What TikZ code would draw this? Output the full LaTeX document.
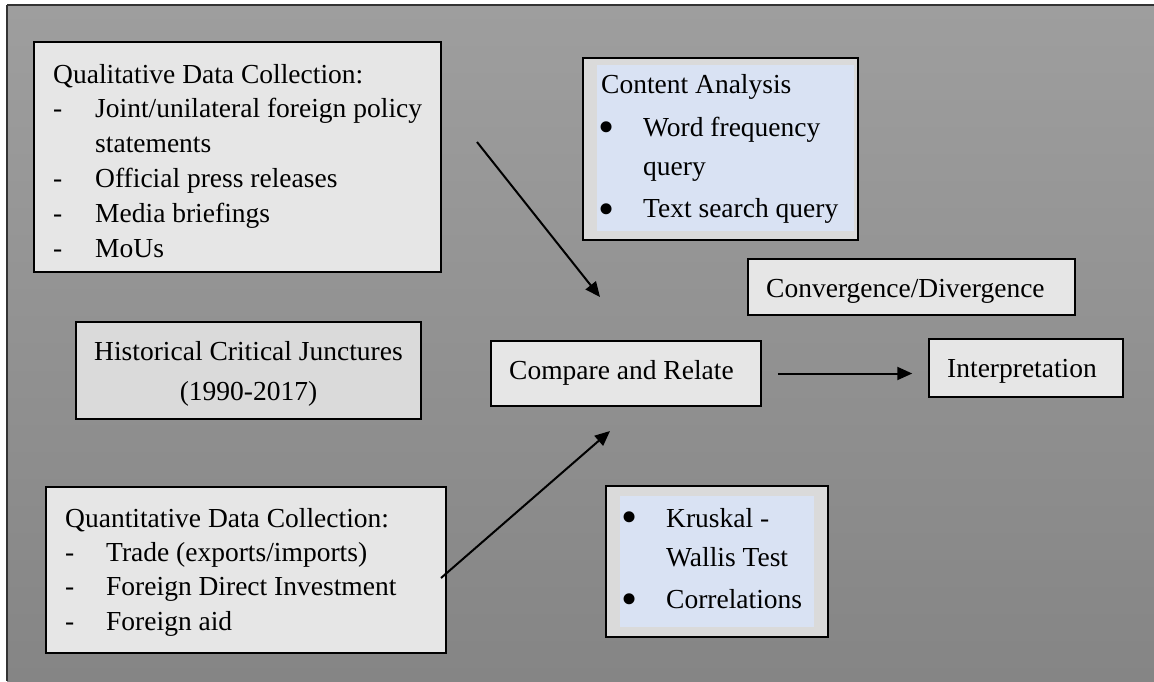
\documentclass[tikz,border=0pt]{standalone}
\usepackage{fontspec}
\setmainfont{Liberation Serif}
\usetikzlibrary{arrows.meta}
\definecolor{bgtop}{HTML}{9E9E9E}
\definecolor{bgbot}{HTML}{858585}
\definecolor{framecol}{HTML}{333333}
\definecolor{boxlight}{HTML}{E6E6E6}
\definecolor{boxmid}{HTML}{DADADA}
\definecolor{panelblue}{HTML}{D9E2F3}
\tikzset{
  box/.style={draw=black, line width=1.5pt, rectangle, inner sep=0pt, fill=boxlight},
  boxdark/.style={box, fill=boxmid},
  panel/.style={fill=panelblue, draw=none, rectangle, inner sep=0pt},
  txt/.style={inner sep=0pt, anchor=base west, font=\fontsize{27.5}{33}\selectfont},
  ctxt/.style={txt, anchor=base},
  dot/.style={inner sep=0pt, anchor=center, font=\fontsize{46}{46}\selectfont},
  link/.style={line width=2pt, -{Triangle[length=15pt,width=13pt]}}
}
\begin{document}
\begin{tikzpicture}[x=1pt,y=-1pt]
\useasboundingbox (0,0) rectangle (1154,681);
% page background and frame
\fill[white] (0,0) rectangle (1154,681);
\shade[top color=bgtop, bottom color=bgbot] (7,5) rectangle (1154,681);
\draw[framecol, line width=2pt] (7,5) -- (1154,5);
\draw[framecol, line width=1.5pt] (7,5) -- (7,681);

% qualitative data collection
\node[box, minimum width=407pt, minimum height=230pt] (qual) at (237.5,157) {};
\node[txt] (q1) at (53,83) {Qualitative Data Collection:};
\node[txt] (q2d) at (53,117.8) {-};
\node[txt] (q2) at (95,117.8) {Joint/unilateral foreign policy};
\node[txt] (q3) at (95,152.6) {statements};
\node[txt] (q4d) at (53,187.4) {-};
\node[txt] (q4) at (95,187.4) {Official press releases};
\node[txt] (q5d) at (53,222.2) {-};
\node[txt] (q5) at (95,222.2) {Media briefings};
\node[txt] (q6d) at (53,257) {-};
\node[txt] (q6) at (95,257) {MoUs};

% content analysis
\node[boxdark, minimum width=275pt, minimum height=182pt] (cont) at (720.5,149) {};
\node[panel, minimum width=257pt, minimum height=166pt] (contp) at (725.5,148) {};
\node[txt] (c1) at (601,93) {Content Analysis};
\node[dot] (c2b) at (607,132) {\textbullet};
\node[txt] (c2) at (643,136) {Word frequency};
\node[txt] (c3) at (643,175) {query};
\node[dot] (c4b) at (607,214) {\textbullet};
\node[txt] (c4) at (643,217) {Text search query};

% convergence / divergence
\node[box, minimum width=327pt, minimum height=56pt] (conv) at (911.5,287) {};
\node[txt] (cv) at (766,297) {Convergence/Divergence};

% historical critical junctures
\node[boxdark, minimum width=345pt, minimum height=97pt] (hist) at (248.5,370.5) {};
\node[ctxt] (h1) at (248.5,360) {Historical Critical Junctures};
\node[ctxt] (h2) at (248.5,400) {(1990-2017)};

% compare and relate, interpretation
\node[box, minimum width=270pt, minimum height=65pt] (cmp) at (626,373.5) {};
\node[txt] (cr) at (509,379) {Compare and Relate};
\node[box, minimum width=194pt, minimum height=58pt] (interp) at (1026,368) {};
\node[txt] (it) at (947,377) {Interpretation};

% quantitative data collection
\node[box, minimum width=400pt, minimum height=166pt] (quant) at (246,570) {};
\node[txt] (n1) at (65,527) {Quantitative Data Collection:};
\node[txt] (n2d) at (65,561.3) {-};
\node[txt] (n2) at (106,561.3) {Trade (exports/imports)};
\node[txt] (n3d) at (65,595.6) {-};
\node[txt] (n3) at (106,595.6) {Foreign Direct Investment};
\node[txt] (n4d) at (65,630) {-};
\node[txt] (n4) at (106,630) {Foreign aid};

% statistical tests
\node[boxdark, minimum width=222pt, minimum height=151pt] (krus) at (717,561.5) {};
\node[panel, minimum width=194pt, minimum height=131pt] (krusp) at (717,561.5) {};
\node[dot] (k1b) at (630,522) {\textbullet};
\node[txt] (k1) at (666,527) {Kruskal -};
\node[txt] (k2) at (666,566) {Wallis Test};
\node[dot] (k3b) at (630,604) {\textbullet};
\node[txt] (k3) at (666,608) {Correlations};

% connectors
\coordinate (a1s) at (477,142);
\coordinate (a1e) at (600,297);
\coordinate (a2s) at (441,578);
\coordinate (a2e) at (610,431);
\draw[link] (a1s) -- (a1e);
\draw[link] (a2s) -- (a2e);
\draw[link] ([xshift=16pt]cmp.east) -- ([xshift=-16pt]cmp.east -| interp.west);
\end{tikzpicture}
\end{document}
